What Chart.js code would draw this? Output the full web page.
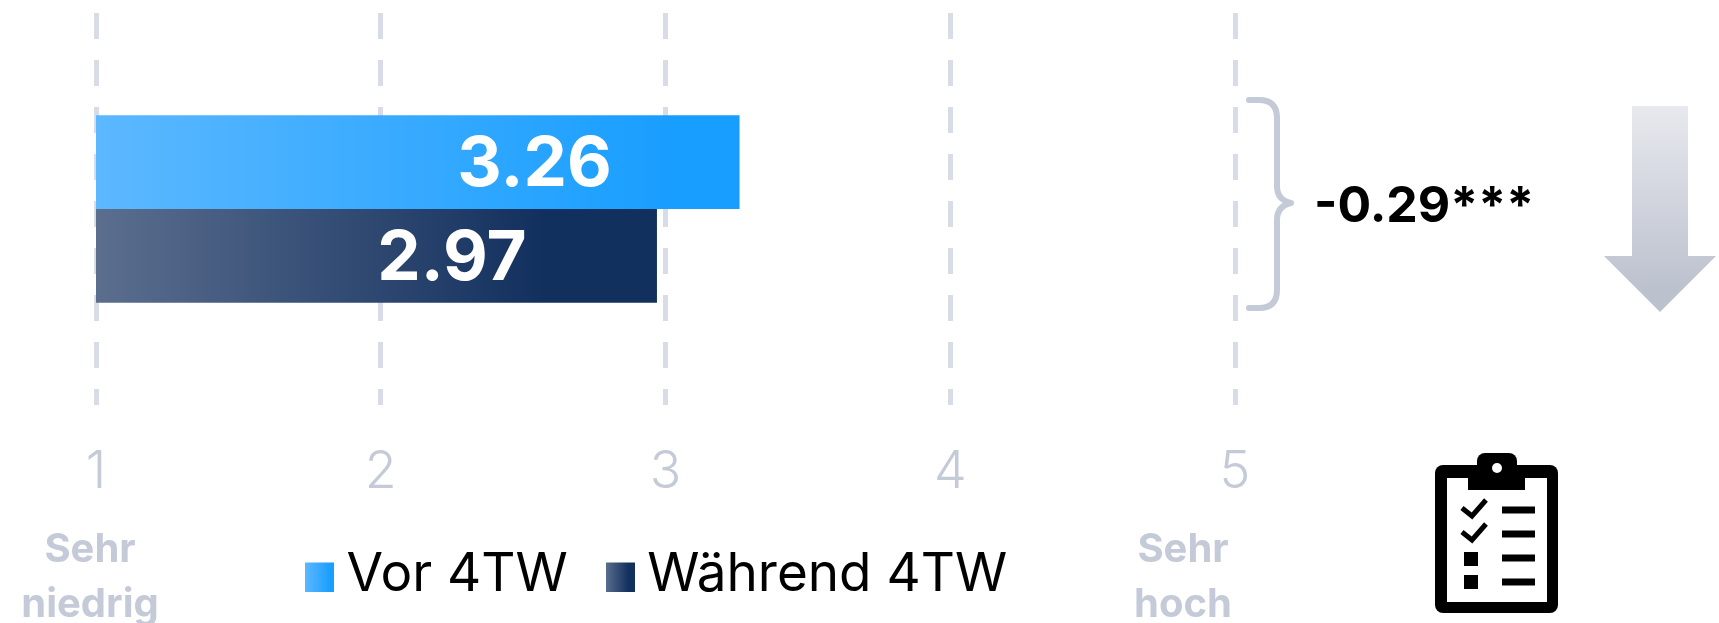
<!DOCTYPE html>
<html><head><meta charset="utf-8">
<script src="https://cdn.jsdelivr.net/npm/chart.js@4"></script>
<style>html,body{margin:0;padding:0;background:#fff}canvas{display:block}</style>
</head><body><canvas id="c" width="1719" height="623"></canvas>
<script>
const categories = [""];
const seriesNames = ["Vor 4TW", "Während 4TW"];
const vor4TW = [3.26];
const waehrend4TW = [2.97];
const tickLabels = ["1", "2", "3", "4", "5"];
const scaleEndLabels = [
  {value: 1, lines: ["Sehr", "niedrig"], shift: -6},
  {value: 5, lines: ["Sehr", "hoch"], shift: -52}
];
const differenceLabel = "-0.29***";
const FONT = "Inter, 'Noto Sans', sans-serif";
const GREY = "#c5cad8";
const blueStops = [[0, "#5cb8ff"], [0.9, "#189eff"], [1, "#189eff"]];
const navyStops = [[0, "#5b6e8e"], [0.8, "#12305e"], [1, "#12305e"]];

function barGradient(stops) {
  return function (ctx) {
    const chart = ctx.chart, x = chart.scales.x;
    if (!x || ctx.raw === undefined) return stops[1][1];
    const g = chart.ctx.createLinearGradient(x.getPixelForValue(1), 0, x.getPixelForValue(ctx.raw), 0);
    stops.forEach(s => g.addColorStop(s[0], s[1]));
    return g;
  };
}
function swatch(stops) {
  const cv = document.createElement("canvas");
  cv.width = 29; cv.height = 32;
  const c = cv.getContext("2d");
  const g = c.createLinearGradient(0, 0, 29, 0);
  stops.forEach(s => g.addColorStop(s[0], s[1]));
  c.fillStyle = g; c.fillRect(0, 3, 29, 29);
  return cv;
}
const swatches = [swatch(blueStops), swatch(navyStops)];

const decorations = {
  id: "decorations",
  afterLayout(chart) {
    chart.legend.left = 267;
    chart.legend.top = 497;
  },
  afterDatasetsDraw(chart) {
    const c = chart.ctx;
    c.save();
    c.fillStyle = "#fff"; c.textAlign = "center"; c.textBaseline = "middle";
    c.font = "700 69px " + FONT;
    chart.data.datasets.forEach((d, i) => {
      const bar = chart.getDatasetMeta(i).data[0];
      c.fillText(d.data[0].toFixed(2), bar.x - 205, bar.y + 3);
    });
    c.restore();
  },
  afterDraw(chart) {
    const c = chart.ctx, x = chart.scales.x;
    c.save();
    c.fillStyle = GREY; c.textAlign = "center"; c.textBaseline = "middle";
    c.font = "700 40px " + FONT;
    scaleEndLabels.forEach(l => {
      const px = x.getPixelForValue(l.value) + l.shift;
      c.fillText(l.lines[0], px, 550);
      c.fillText(l.lines[1], px, 605);
    });
    c.fillStyle = "#000"; c.textAlign = "left";
    c.font = "700 50px " + FONT;
    c.fillText(differenceLabel, 1314, 207);
    // brace
    c.strokeStyle = GREY; c.lineWidth = 6; c.lineCap = "round"; c.lineJoin = "round";
    c.beginPath();
    c.moveTo(1249, 100);
    c.lineTo(1259, 100);
    c.quadraticCurveTo(1277, 100, 1277, 118);
    c.lineTo(1277, 186);
    c.quadraticCurveTo(1277, 200, 1291, 203);
    c.quadraticCurveTo(1277, 206, 1277, 220);
    c.lineTo(1277, 290);
    c.quadraticCurveTo(1277, 308, 1259, 308);
    c.lineTo(1249, 308);
    c.stroke();
    // arrow
    const ag = c.createLinearGradient(0, 106, 0, 290);
    ag.addColorStop(0, "#e8e9ee"); ag.addColorStop(1, "#bcc1ce");
    c.fillStyle = ag;
    c.beginPath();
    c.moveTo(1632, 106); c.lineTo(1688, 106); c.lineTo(1688, 256); c.lineTo(1716, 256);
    c.lineTo(1660, 312); c.lineTo(1604, 256); c.lineTo(1632, 256); c.closePath();
    c.fill();
    // clipboard
    c.fillStyle = "#000";
    c.beginPath(); c.roundRect(1435, 465, 123, 148, 8); c.fill();
    c.fillStyle = "#fff"; c.fillRect(1447, 478, 100, 124);
    c.fillStyle = "#000";
    c.beginPath(); c.roundRect(1477, 453, 40, 24, 8); c.fill();
    c.fillRect(1468, 472, 57, 18);
    c.fillStyle = "#fff"; c.beginPath(); c.arc(1497, 468, 5, 0, 7); c.fill();
    c.fillStyle = "#000";
    [510, 534, 558, 582].forEach(y => c.fillRect(1502, y - 3.5, 33, 7));
    [552, 575].forEach(y => c.fillRect(1464, y, 14, 14));
    c.strokeStyle = "#000"; c.lineWidth = 5; c.lineCap = "butt"; c.lineJoin = "miter";
    [0, 24].forEach(dy => {
      c.beginPath(); c.moveTo(1462, 508 + dy); c.lineTo(1472, 516 + dy); c.lineTo(1486, 500 + dy); c.stroke();
    });
    c.restore();
  }
};

new Chart(document.getElementById("c"), {
  type: "bar",
  data: {
    labels: categories,
    datasets: [
      {label: seriesNames[0], data: vor4TW, backgroundColor: barGradient(blueStops)},
      {label: seriesNames[1], data: waehrend4TW, backgroundColor: barGradient(navyStops)}
    ]
  },
  options: {
    indexAxis: "y",
    responsive: false,
    animation: false,
    layout: {padding: {left: 96, right: 484, top: 13, bottom: 0}},
    datasets: {bar: {categoryPercentage: 0.478, barPercentage: 1, borderWidth: 0}},
    scales: {
      x: {
        type: "linear", min: 1, max: 5,
        afterFit(s) { s.height = 103; },
        grid: {color: "#d8dce6", lineWidth: 5, drawTicks: false},
        border: {display: false, dash: [26, 21]},
        ticks: {
          stepSize: 1, color: GREY, padding: 36, maxRotation: 0, autoSkip: false,
          font: {family: FONT, size: 52, weight: "300"},
          callback: (v, i) => tickLabels[i]
        }
      },
      y: {type: "category", display: false}
    },
    plugins: {
      tooltip: {enabled: false},
      legend: {
        position: "bottom", align: "start",
        labels: {
          usePointStyle: true, boxWidth: 1, boxHeight: 29, padding: 52,
          color: "#000", font: {family: FONT, size: 53, weight: "400"},
          generateLabels(chart) {
            return chart.data.datasets.map((d, i) => ({
              text: d.label, pointStyle: swatches[i], fillStyle: "transparent", strokeStyle: "transparent",
              lineWidth: 0, datasetIndex: i, fontColor: "#000"
            }));
          }
        }
      }
    }
  },
  plugins: [decorations]
});
</script></body></html>
